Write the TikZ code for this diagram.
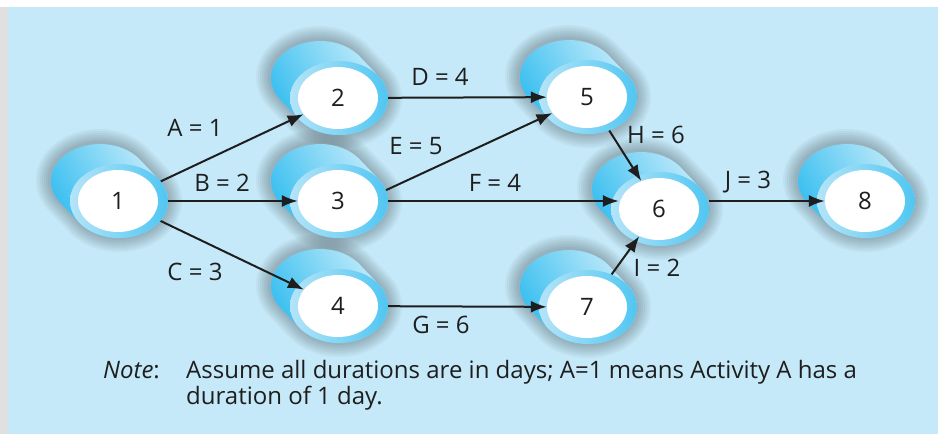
\documentclass[tikz,border=0pt]{standalone}
\usepackage{fontspec}
\setmainfont{Open Sans}
\usetikzlibrary{shapes.geometric,arrows.meta}
\definecolor{bg}{RGB}{197,233,248}
\definecolor{strip}{RGB}{224,224,224}
\definecolor{tubeD}{RGB}{55,190,240}
\definecolor{tubeL}{RGB}{195,235,250}
\definecolor{ringL}{RGB}{180,228,248}
\definecolor{ringD}{RGB}{80,198,242}
\definecolor{ink}{RGB}{30,30,30}
\newcommand\cylshadow[2]{%
  \foreach \k in {1,...,7}{%
    \fill[black,opacity=0.035] foreach \t in {0,0.125,...,1}{(#1-20*\t,#2-21*\t) ellipse [x radius={49+2*\k}, y radius={37+2*\k}]};%
  }}
\newcommand\cylbody[4]{%
  \shade[left color=tubeD, right color=tubeL, shading angle=120] foreach \t in {0,0.05,...,1}{(#2-20*\t,#3-21*\t) ellipse [x radius=49, y radius=37]};
  \node[ringstyle] (#1o) at (#2,#3) {};
  \node[whitestyle] (#1) at (#2-1,#3) {#4};
}
\begin{document}
\begin{tikzpicture}[x=1pt,y=-1pt,
  arr/.style={-{Latex[length=16pt,width=12pt]}, line width=2pt, draw=ink},
  lbl/.style={font=\fontsize{24}{28}\selectfont, text=ink, inner sep=0pt},
  ringstyle/.style={ellipse, minimum width=98pt, minimum height=74pt, inner sep=0pt, left color=ringL, right color=ringD},
  whitestyle/.style={ellipse, minimum width=80pt, minimum height=62pt, inner sep=0pt, fill=white, text=ink, font=\fontsize{24}{28}\selectfont}]
\useasboundingbox (0,0) rectangle (938,434);
\fill[white] (0,0) rectangle (938,434);
\fill[strip] (0,7) rectangle (8,434);
\fill[bg] (8,7) rectangle (938,434);
% shadows
\cylshadow{119}{201}
\cylshadow{339}{98}
\cylshadow{339}{201}
\cylshadow{339}{306}
\cylshadow{588}{97}
\cylshadow{660}{209}
\cylshadow{588}{307}
\cylshadow{866}{201}
% bodies
\cylbody{n1}{119}{201}{1}
\cylbody{n2}{339}{98}{2}
\cylbody{n3}{339}{201}{3}
\cylbody{n4}{339}{306}{4}
\cylbody{n5}{588}{97}{5}
\cylbody{n6}{660}{209}{6}
\cylbody{n7}{588}{307}{7}
\cylbody{n8}{866}{201}{8}
% edges
\draw[arr] (n1o) -- (n2);
\draw[arr] (n1o) -- (n3);
\draw[arr] (n1o) -- (n4);
\draw[arr] (n2o) -- (n5);
\draw[arr] (n3o.13) -- (n5);
\draw[arr] (n3o.east) -- (n3o.east -| n6.west);
\draw[arr] (n4o) -- (n7);
\draw[arr] (n5o) -- (n6);
\draw[arr] (n7o) -- (n6);
\draw[arr] (n6o.east |- n8.west) -- (n8.west);
% labels
\node[lbl] (la) at (195,128) {A = 1};
\node[lbl] (lb) at (222,183) {B = 2};
\node[lbl] (lc) at (195,272) {C = 3};
\node[lbl] (ld) at (440,77) {D = 4};
\node[lbl] (le) at (416,146) {E = 5};
\node[lbl] (lf) at (495,183) {F = 4};
\node[lbl] (lg) at (441,325) {G = 6};
\node[lbl] (lh) at (656,135) {H = 6};
\node[lbl] (li) at (657,268) {I = 2};
\node[lbl] (lj) at (748,182) {J = 3};
% note
\node[lbl, anchor=base west] (nt) at (103,378) {\textit{Note}:};
\node[lbl, anchor=base west] (n1l) at (186,378) {Assume all durations are in days; A=1 means Activity A has a};
\node[lbl, anchor=base west] (n2l) at (186,404) {duration of 1 day.};
\end{tikzpicture}
\end{document}
